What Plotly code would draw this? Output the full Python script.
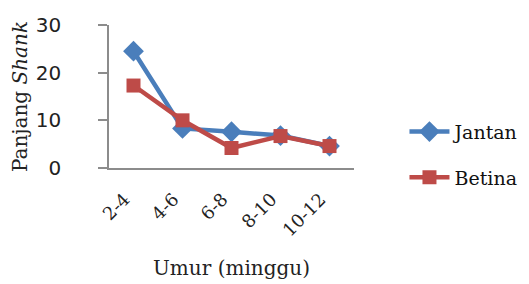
import plotly.graph_objects as go

categories = ["2-4", "4-6", "6-8", "8-10", "10-12"]
jantan = [24.5, 8.3, 7.6, 6.8, 4.6]
betina = [17.3, 10.0, 4.2, 6.7, 4.6]
y_ticks = [0, 10, 20, 30]

BLUE = "#4a7ebb"
RED = "#be4b48"
AXIS = "#8c8c8c"
serif = "DejaVu Serif"

fig = go.Figure()
fig.add_trace(go.Scatter(x=categories, y=jantan, name="Jantan", mode="lines+markers",
                         legendgroup="a",
                         line=dict(color=BLUE, width=4.5),
                         marker=dict(symbol="diamond", size=16, color=BLUE)))
fig.add_trace(go.Scatter(x=categories, y=betina, name="Betina", mode="lines+markers",
                         legendgroup="b",
                         line=dict(color=RED, width=4.5),
                         marker=dict(symbol="square", size=14, color=RED)))

fig.update_layout(
    width=529, height=284,
    margin=dict(l=101, r=176, t=17, b=124),
    paper_bgcolor="white", plot_bgcolor="white",
    showlegend=True,
    legend=dict(x=1.206, y=0.093, xanchor="left", yanchor="middle",
                font=dict(family=serif, size=19, color="#111"),
                itemwidth=40, tracegroupgap=18, bgcolor="rgba(0,0,0,0)"),
    xaxis=dict(type="category", showgrid=False, showline=True, linecolor=AXIS, linewidth=1.5,
               ticks="", tickangle=-45, ticklabelstandoff=12, ticklabelshift=-9, automargin=False,
               tickfont=dict(family=serif, size=18, color="#222"),
               title=dict(text="Umur (minggu)", font=dict(family=serif, size=20, color="#222"), standoff=22),
               range=[-0.5, 4.5]),
    yaxis=dict(range=[0, 30], tickvals=y_ticks, showgrid=False, zeroline=False,
               showline=True, linecolor=AXIS, linewidth=1.5, automargin=False,
               ticks="outside", ticklen=9, tickcolor=AXIS, tickwidth=1.5, ticklabelstandoff=33,
               tickfont=dict(family="DejaVu Sans", size=20, color="#222"),
               title=dict(text="Panjang <i>Shank</i>", font=dict(family=serif, size=20, color="#222"), standoff=4)),
)
fig.add_shape(type="line", xref="paper", yref="y", x0=-10/252, x1=0, y0=0, y1=0,
              line=dict(color=AXIS, width=1.5))

fig.write_html("out.html")
